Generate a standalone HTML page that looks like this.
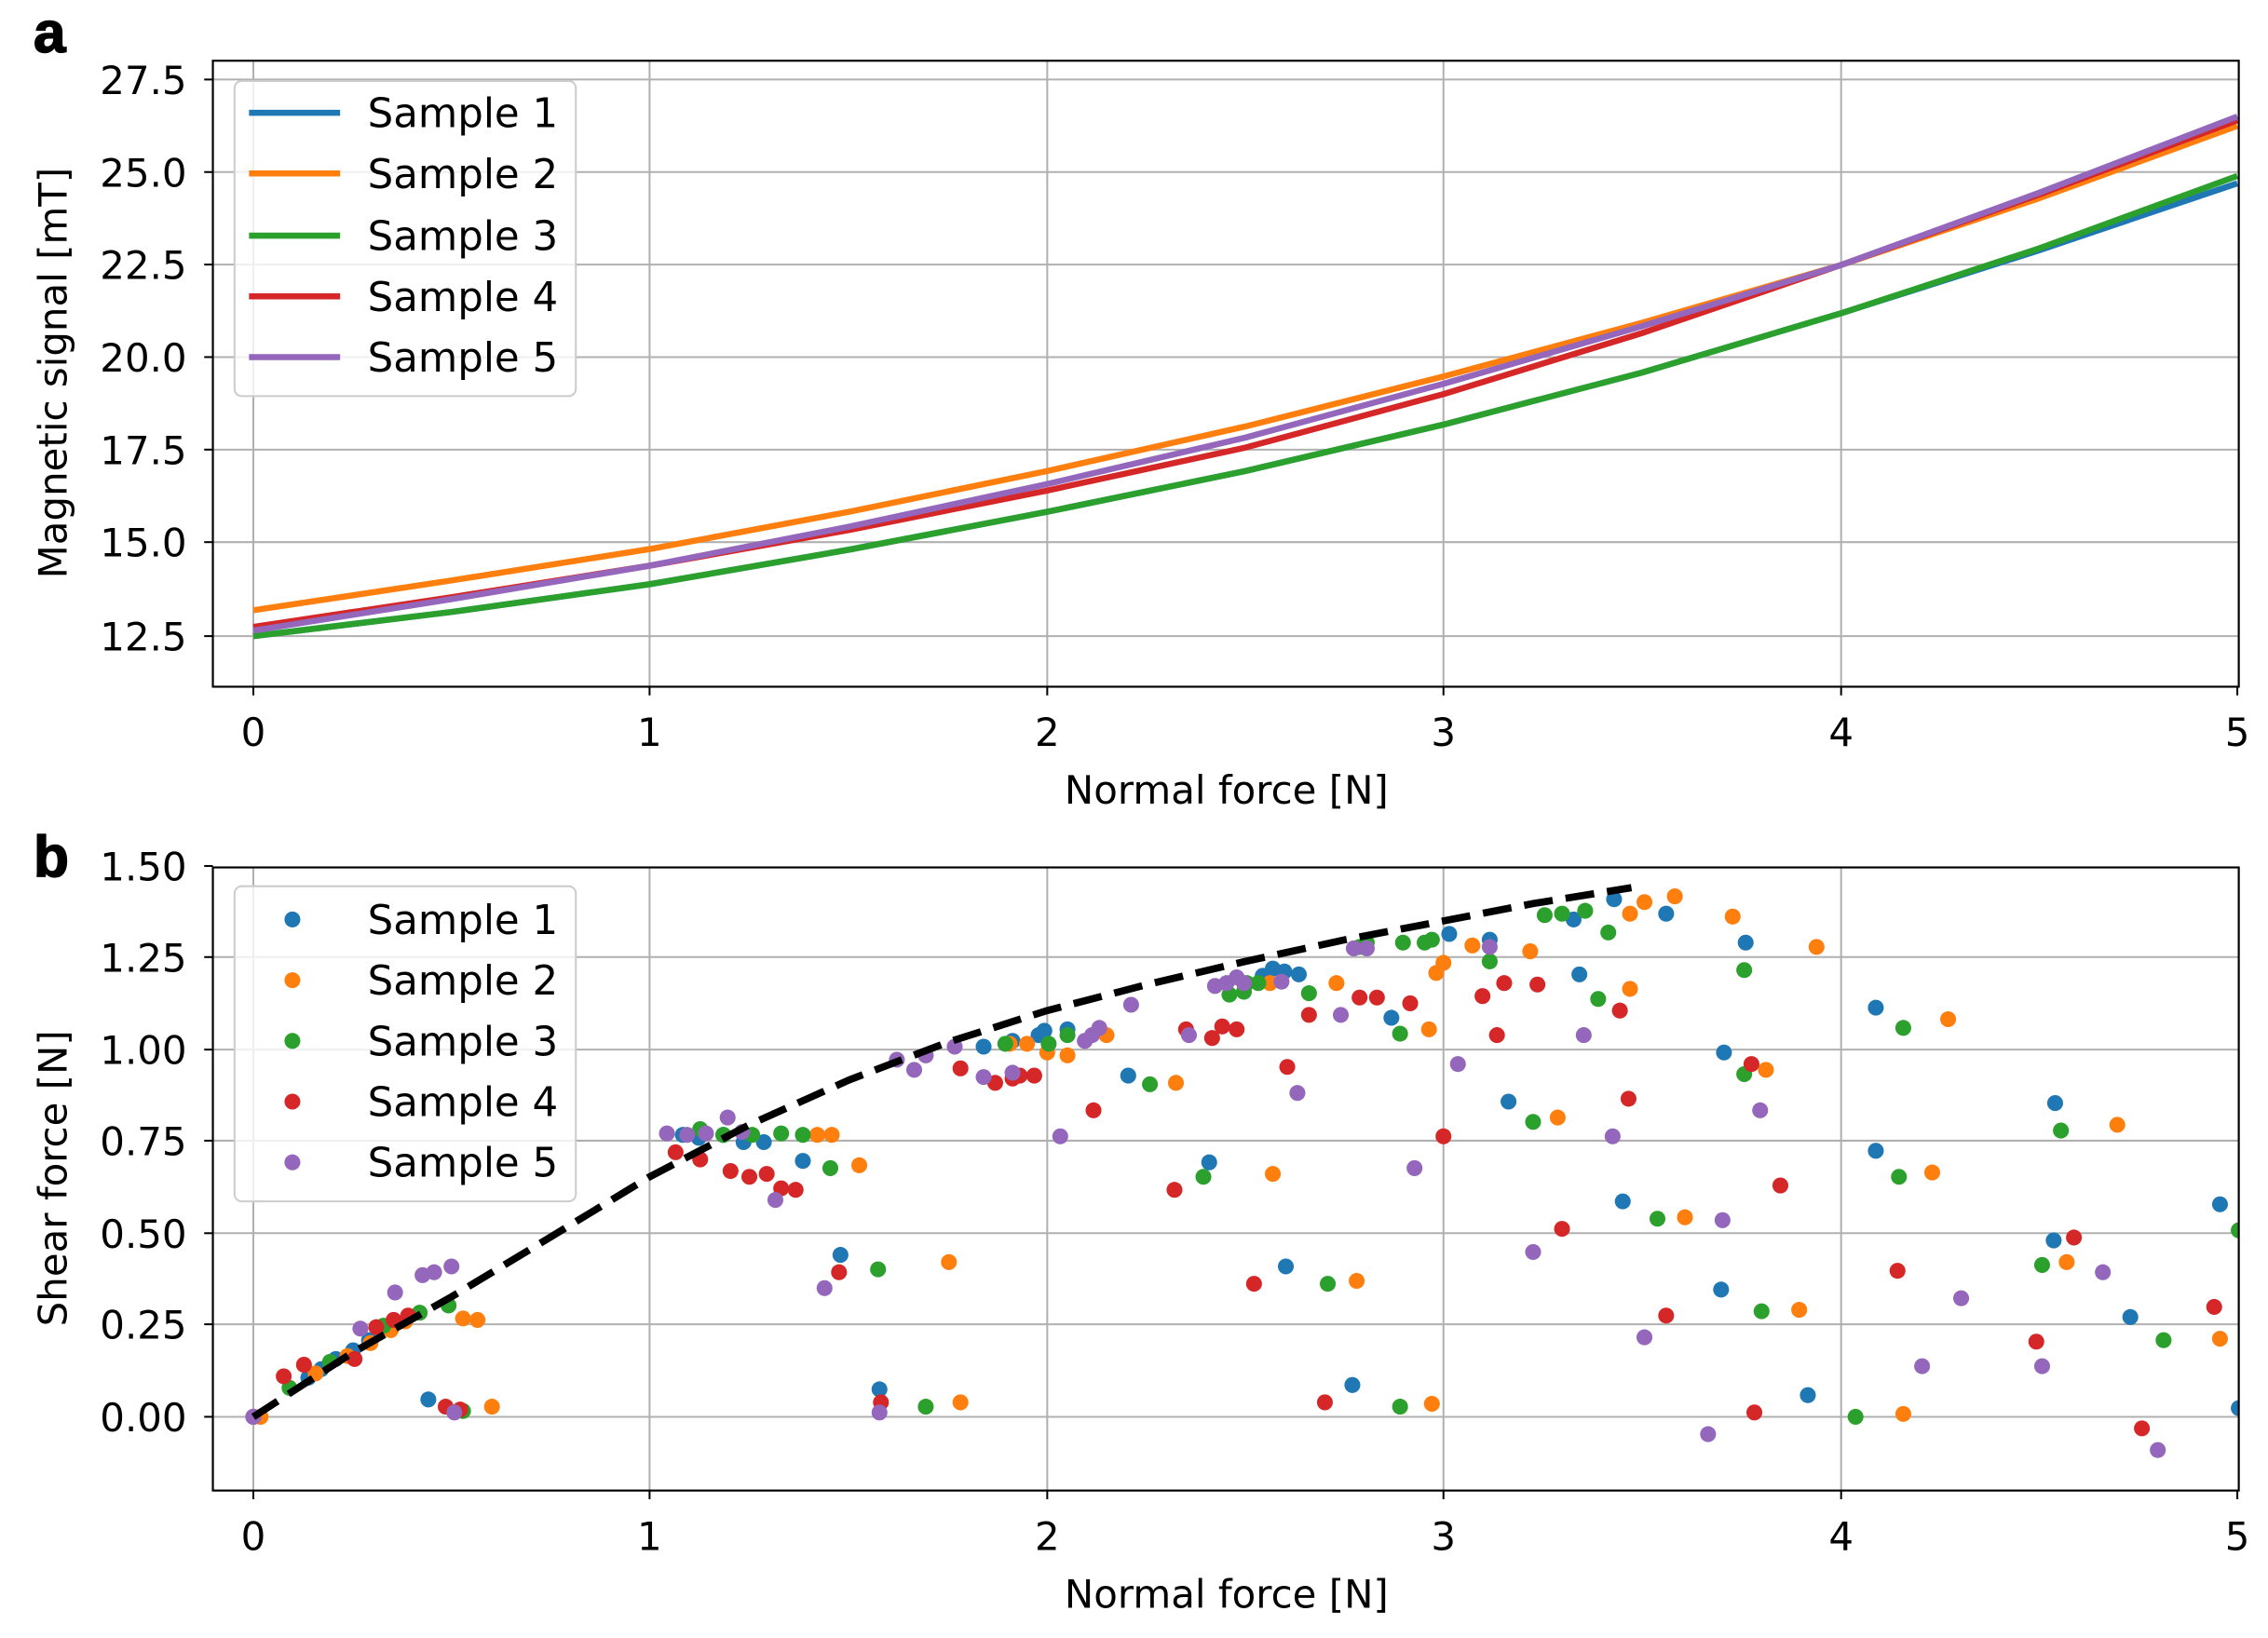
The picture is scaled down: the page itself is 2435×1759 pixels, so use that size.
<!DOCTYPE html>
<html><head><meta charset="utf-8"><style>
html,body{margin:0;padding:0;background:#fff;}
svg{display:block;}
text{font-family:"DejaVu Sans","Liberation Sans",sans-serif;fill:#000;}
</style></head><body>
<svg width="2435" height="1759" viewBox="0 0 1568 1133" xmlns="http://www.w3.org/2000/svg">
<defs>
<clipPath id="ca"><rect x="147" y="42" width="1401" height="433"/></clipPath>
<clipPath id="cb"><rect x="147" y="600" width="1401" height="431"/></clipPath>
</defs>
<rect width="1568" height="1133" fill="#fff"/>
<!-- Panel a -->
<text x="23" y="36" font-weight="900" font-size="40" style="font-family:'Liberation Sans',sans-serif" stroke="#000" stroke-width="1">a</text>
<g stroke="#b0b0b0" stroke-width="1.3">
<line x1="175" y1="42" x2="175" y2="475"/><line x1="449" y1="42" x2="449" y2="475"/><line x1="724" y1="42" x2="724" y2="475"/><line x1="998" y1="42" x2="998" y2="475"/><line x1="1273" y1="42" x2="1273" y2="475"/>
<line x1="147" y1="55" x2="1548" y2="55"/><line x1="147" y1="119" x2="1548" y2="119"/><line x1="147" y1="183" x2="1548" y2="183"/><line x1="147" y1="247" x2="1548" y2="247"/><line x1="147" y1="311" x2="1548" y2="311"/><line x1="147" y1="375" x2="1548" y2="375"/><line x1="147" y1="440" x2="1548" y2="440"/>
</g>
<g clip-path="url(#ca)" fill="none" stroke-width="4.2" stroke-linejoin="round">
<polyline stroke="#1f77b4" points="175,440 312,423.3 449,404.1 587,380.2 724,354 861,325.8 998,293.7 1135,257.8 1273,216.7 1410,173.1 1547,126.8"/>
<polyline stroke="#ff7f0e" points="175,422.1 312,401.5 449,379.8 587,354 724,325.8 861,295 998,260.4 1135,223.4 1273,183.3 1410,137.1 1547,87.1"/>
<polyline stroke="#2ca02c" points="175,440 312,423.3 449,404.1 587,380.2 724,354 861,325.8 998,293.7 1135,257.8 1273,216.7 1410,171.8 1547,121.7"/>
<polyline stroke="#d62728" points="175,433.6 312,413.1 449,391.3 587,366.6 724,339.3 861,309.6 998,272.6 1135,230.5 1273,183.3 1410,134.6 1547,83.2"/>
<polyline stroke="#9467bd" points="175,436.2 312,414.4 449,391.3 587,364.3 724,334.8 861,302.7 998,265.5 1135,225.7 1273,183.3 1410,133.3 1547,80.6"/>
</g>
<rect x="147" y="42" width="1401" height="433" fill="none" stroke="#000" stroke-width="1.4"/>
<g stroke="#000" stroke-width="1.3">
<line x1="175" y1="475" x2="175" y2="481"/><line x1="449" y1="475" x2="449" y2="481"/><line x1="724" y1="475" x2="724" y2="481"/><line x1="998" y1="475" x2="998" y2="481"/><line x1="1273" y1="475" x2="1273" y2="481"/><line x1="1547" y1="475" x2="1547" y2="481"/>
<line x1="141" y1="55" x2="147" y2="55"/><line x1="141" y1="119" x2="147" y2="119"/><line x1="141" y1="183" x2="147" y2="183"/><line x1="141" y1="247" x2="147" y2="247"/><line x1="141" y1="311" x2="147" y2="311"/><line x1="141" y1="375" x2="147" y2="375"/><line x1="141" y1="440" x2="147" y2="440"/>
</g>
<g font-size="27" text-anchor="middle">
<text x="175" y="516">0</text><text x="449" y="516">1</text><text x="724" y="516">2</text><text x="998" y="516">3</text><text x="1273" y="516">4</text><text x="1547" y="516">5</text>
<text x="848" y="556">Normal force [N]</text>
</g>
<g font-size="27" text-anchor="end">
<text x="129" y="65">27.5</text><text x="129" y="129">25.0</text><text x="129" y="193">22.5</text><text x="129" y="257">20.0</text><text x="129" y="321">17.5</text><text x="129" y="385">15.0</text><text x="129" y="450">12.5</text>
</g>
<text font-size="27" text-anchor="middle" transform="translate(46,258) rotate(-90)">Magnetic signal [mT]</text>
<rect x="162" y="56" width="236" height="218" rx="5" fill="#fff" fill-opacity="0.8" stroke="#cccccc" stroke-width="1.3"/>
<g stroke-width="4.2">
<line x1="172" y1="78" x2="235" y2="78" stroke="#1f77b4"/>
<line x1="172" y1="120" x2="235" y2="120" stroke="#ff7f0e"/>
<line x1="172" y1="163" x2="235" y2="163" stroke="#2ca02c"/>
<line x1="172" y1="205" x2="235" y2="205" stroke="#d62728"/>
<line x1="172" y1="247" x2="235" y2="247" stroke="#9467bd"/>
</g>
<g font-size="28">
<text x="254" y="88">Sample 1</text><text x="254" y="130">Sample 2</text><text x="254" y="173">Sample 3</text><text x="254" y="215">Sample 4</text><text x="254" y="257">Sample 5</text>
</g>

<!-- Panel b -->
<text x="23" y="606" font-weight="900" font-size="40" style="font-family:'Liberation Sans',sans-serif" stroke="#000" stroke-width="1">b</text>
<g stroke="#b0b0b0" stroke-width="1.3">
<line x1="175" y1="600" x2="175" y2="1031"/><line x1="449" y1="600" x2="449" y2="1031"/><line x1="724" y1="600" x2="724" y2="1031"/><line x1="998" y1="600" x2="998" y2="1031"/><line x1="1273" y1="600" x2="1273" y2="1031"/>
<line x1="147" y1="662" x2="1548" y2="662"/><line x1="147" y1="726" x2="1548" y2="726"/><line x1="147" y1="789" x2="1548" y2="789"/><line x1="147" y1="853" x2="1548" y2="853"/><line x1="147" y1="916" x2="1548" y2="916"/><line x1="147" y1="980" x2="1548" y2="980"/>
</g>
<g clip-path="url(#cb)">
<g fill="#1f77b4">
<circle cx="175" cy="980" r="5.5"/><circle cx="213" cy="953" r="5.5"/><circle cx="222" cy="947" r="5.5"/><circle cx="232" cy="940" r="5.5"/><circle cx="244" cy="934" r="5.5"/><circle cx="255" cy="927" r="5.5"/><circle cx="296" cy="968" r="5.5"/><circle cx="472" cy="785" r="5.5"/><circle cx="483" cy="787" r="5.5"/><circle cx="500" cy="785" r="5.5"/><circle cx="514" cy="790" r="5.5"/><circle cx="528" cy="790" r="5.5"/><circle cx="555" cy="803" r="5.5"/><circle cx="581" cy="868" r="5.5"/><circle cx="608" cy="961" r="5.5"/><circle cx="680" cy="724" r="5.5"/><circle cx="700" cy="720" r="5.5"/><circle cx="718" cy="716" r="5.5"/><circle cx="722" cy="713" r="5.5"/><circle cx="738" cy="712" r="5.5"/><circle cx="780" cy="744" r="5.5"/><circle cx="836" cy="804" r="5.5"/><circle cx="873" cy="675" r="5.5"/><circle cx="880" cy="670" r="5.5"/><circle cx="888" cy="672" r="5.5"/><circle cx="898" cy="674" r="5.5"/><circle cx="889" cy="876" r="5.5"/><circle cx="935" cy="958" r="5.5"/><circle cx="962" cy="704" r="5.5"/><circle cx="1002" cy="646" r="5.5"/><circle cx="1030" cy="650" r="5.5"/><circle cx="1043" cy="762" r="5.5"/><circle cx="1088" cy="636" r="5.5"/><circle cx="1092" cy="674" r="5.5"/><circle cx="1116" cy="622" r="5.5"/><circle cx="1122" cy="831" r="5.5"/><circle cx="1152" cy="632" r="5.5"/><circle cx="1190" cy="892" r="5.5"/><circle cx="1192" cy="728" r="5.5"/><circle cx="1207" cy="652" r="5.5"/><circle cx="1250" cy="965" r="5.5"/><circle cx="1297" cy="697" r="5.5"/><circle cx="1297" cy="796" r="5.5"/><circle cx="1420" cy="858" r="5.5"/><circle cx="1421" cy="763" r="5.5"/><circle cx="1473" cy="911" r="5.5"/><circle cx="1535" cy="833" r="5.5"/><circle cx="1548" cy="974" r="5.5"/>
</g>
<g fill="#ff7f0e">
<circle cx="180" cy="980" r="5.5"/><circle cx="218" cy="950" r="5.5"/><circle cx="240" cy="938" r="5.5"/><circle cx="256" cy="929" r="5.5"/><circle cx="270" cy="920" r="5.5"/><circle cx="280" cy="914" r="5.5"/><circle cx="320" cy="912" r="5.5"/><circle cx="330" cy="913" r="5.5"/><circle cx="340" cy="973" r="5.5"/><circle cx="565" cy="785" r="5.5"/><circle cx="575" cy="785" r="5.5"/><circle cx="594" cy="806" r="5.5"/><circle cx="656" cy="873" r="5.5"/><circle cx="664" cy="970" r="5.5"/><circle cx="698" cy="722" r="5.5"/><circle cx="710" cy="722" r="5.5"/><circle cx="724" cy="728" r="5.5"/><circle cx="738" cy="730" r="5.5"/><circle cx="765" cy="716" r="5.5"/><circle cx="813" cy="749" r="5.5"/><circle cx="878" cy="680" r="5.5"/><circle cx="880" cy="812" r="5.5"/><circle cx="924" cy="680" r="5.5"/><circle cx="938" cy="886" r="5.5"/><circle cx="988" cy="712" r="5.5"/><circle cx="993" cy="673" r="5.5"/><circle cx="998" cy="666" r="5.5"/><circle cx="990" cy="971" r="5.5"/><circle cx="1018" cy="654" r="5.5"/><circle cx="1058" cy="658" r="5.5"/><circle cx="1077" cy="773" r="5.5"/><circle cx="1127" cy="632" r="5.5"/><circle cx="1127" cy="684" r="5.5"/><circle cx="1137" cy="624" r="5.5"/><circle cx="1158" cy="620" r="5.5"/><circle cx="1165" cy="842" r="5.5"/><circle cx="1198" cy="634" r="5.5"/><circle cx="1221" cy="740" r="5.5"/><circle cx="1244" cy="906" r="5.5"/><circle cx="1256" cy="655" r="5.5"/><circle cx="1316" cy="978" r="5.5"/><circle cx="1336" cy="811" r="5.5"/><circle cx="1347" cy="705" r="5.5"/><circle cx="1429" cy="873" r="5.5"/><circle cx="1464" cy="778" r="5.5"/><circle cx="1535" cy="926" r="5.5"/>
</g>
<g fill="#2ca02c">
<circle cx="175" cy="980" r="5.5"/><circle cx="200" cy="960" r="5.5"/><circle cx="228" cy="942" r="5.5"/><circle cx="265" cy="917" r="5.5"/><circle cx="290" cy="908" r="5.5"/><circle cx="310" cy="903" r="5.5"/><circle cx="320" cy="976" r="5.5"/><circle cx="484" cy="781" r="5.5"/><circle cx="500" cy="785" r="5.5"/><circle cx="520" cy="785" r="5.5"/><circle cx="540" cy="784" r="5.5"/><circle cx="555" cy="785" r="5.5"/><circle cx="574" cy="808" r="5.5"/><circle cx="607" cy="878" r="5.5"/><circle cx="640" cy="973" r="5.5"/><circle cx="695" cy="722" r="5.5"/><circle cx="725" cy="722" r="5.5"/><circle cx="738" cy="716" r="5.5"/><circle cx="795" cy="750" r="5.5"/><circle cx="832" cy="814" r="5.5"/><circle cx="850" cy="688" r="5.5"/><circle cx="860" cy="686" r="5.5"/><circle cx="862" cy="680" r="5.5"/><circle cx="870" cy="680" r="5.5"/><circle cx="905" cy="687" r="5.5"/><circle cx="918" cy="888" r="5.5"/><circle cx="940" cy="655" r="5.5"/><circle cx="945" cy="652" r="5.5"/><circle cx="968" cy="715" r="5.5"/><circle cx="970" cy="652" r="5.5"/><circle cx="985" cy="652" r="5.5"/><circle cx="990" cy="650" r="5.5"/><circle cx="968" cy="973" r="5.5"/><circle cx="1030" cy="665" r="5.5"/><circle cx="1060" cy="776" r="5.5"/><circle cx="1068" cy="633" r="5.5"/><circle cx="1080" cy="632" r="5.5"/><circle cx="1096" cy="630" r="5.5"/><circle cx="1105" cy="691" r="5.5"/><circle cx="1112" cy="645" r="5.5"/><circle cx="1146" cy="843" r="5.5"/><circle cx="1206" cy="671" r="5.5"/><circle cx="1206" cy="743" r="5.5"/><circle cx="1218" cy="907" r="5.5"/><circle cx="1283" cy="980" r="5.5"/><circle cx="1313" cy="814" r="5.5"/><circle cx="1316" cy="711" r="5.5"/><circle cx="1412" cy="875" r="5.5"/><circle cx="1425" cy="782" r="5.5"/><circle cx="1496" cy="927" r="5.5"/><circle cx="1548" cy="851" r="5.5"/>
</g>
<g fill="#d62728">
<circle cx="175" cy="980" r="5.5"/><circle cx="196" cy="952" r="5.5"/><circle cx="210" cy="944" r="5.5"/><circle cx="245" cy="940" r="5.5"/><circle cx="260" cy="918" r="5.5"/><circle cx="272" cy="913" r="5.5"/><circle cx="282" cy="910" r="5.5"/><circle cx="308" cy="973" r="5.5"/><circle cx="318" cy="975" r="5.5"/><circle cx="467" cy="797" r="5.5"/><circle cx="484" cy="802" r="5.5"/><circle cx="505" cy="810" r="5.5"/><circle cx="518" cy="814" r="5.5"/><circle cx="530" cy="812" r="5.5"/><circle cx="540" cy="822" r="5.5"/><circle cx="550" cy="823" r="5.5"/><circle cx="580" cy="880" r="5.5"/><circle cx="609" cy="970" r="5.5"/><circle cx="664" cy="739" r="5.5"/><circle cx="688" cy="749" r="5.5"/><circle cx="700" cy="746" r="5.5"/><circle cx="705" cy="744" r="5.5"/><circle cx="715" cy="744" r="5.5"/><circle cx="756" cy="768" r="5.5"/><circle cx="812" cy="823" r="5.5"/><circle cx="820" cy="712" r="5.5"/><circle cx="838" cy="718" r="5.5"/><circle cx="845" cy="710" r="5.5"/><circle cx="855" cy="712" r="5.5"/><circle cx="867" cy="888" r="5.5"/><circle cx="890" cy="738" r="5.5"/><circle cx="905" cy="702" r="5.5"/><circle cx="916" cy="970" r="5.5"/><circle cx="940" cy="690" r="5.5"/><circle cx="952" cy="690" r="5.5"/><circle cx="975" cy="694" r="5.5"/><circle cx="998" cy="786" r="5.5"/><circle cx="1025" cy="689" r="5.5"/><circle cx="1035" cy="716" r="5.5"/><circle cx="1040" cy="680" r="5.5"/><circle cx="1063" cy="681" r="5.5"/><circle cx="1080" cy="850" r="5.5"/><circle cx="1120" cy="699" r="5.5"/><circle cx="1126" cy="760" r="5.5"/><circle cx="1152" cy="910" r="5.5"/><circle cx="1213" cy="977" r="5.5"/><circle cx="1211" cy="736" r="5.5"/><circle cx="1231" cy="820" r="5.5"/><circle cx="1312" cy="879" r="5.5"/><circle cx="1408" cy="928" r="5.5"/><circle cx="1434" cy="856" r="5.5"/><circle cx="1481" cy="988" r="5.5"/><circle cx="1531" cy="904" r="5.5"/>
</g>
<g fill="#9467bd">
<circle cx="175" cy="980" r="5.5"/><circle cx="249" cy="919" r="5.5"/><circle cx="273" cy="894" r="5.5"/><circle cx="292" cy="882" r="5.5"/><circle cx="300" cy="880" r="5.5"/><circle cx="312" cy="876" r="5.5"/><circle cx="314" cy="977" r="5.5"/><circle cx="461" cy="784" r="5.5"/><circle cx="475" cy="785" r="5.5"/><circle cx="488" cy="784" r="5.5"/><circle cx="503" cy="773" r="5.5"/><circle cx="513" cy="783" r="5.5"/><circle cx="536" cy="830" r="5.5"/><circle cx="570" cy="891" r="5.5"/><circle cx="608" cy="977" r="5.5"/><circle cx="620" cy="733" r="5.5"/><circle cx="632" cy="740" r="5.5"/><circle cx="640" cy="730" r="5.5"/><circle cx="660" cy="724" r="5.5"/><circle cx="680" cy="745" r="5.5"/><circle cx="700" cy="742" r="5.5"/><circle cx="733" cy="786" r="5.5"/><circle cx="750" cy="720" r="5.5"/><circle cx="755" cy="716" r="5.5"/><circle cx="760" cy="711" r="5.5"/><circle cx="782" cy="695" r="5.5"/><circle cx="822" cy="716" r="5.5"/><circle cx="840" cy="682" r="5.5"/><circle cx="848" cy="680" r="5.5"/><circle cx="855" cy="676" r="5.5"/><circle cx="860" cy="680" r="5.5"/><circle cx="886" cy="679" r="5.5"/><circle cx="897" cy="756" r="5.5"/><circle cx="927" cy="702" r="5.5"/><circle cx="936" cy="656" r="5.5"/><circle cx="945" cy="656" r="5.5"/><circle cx="978" cy="808" r="5.5"/><circle cx="1008" cy="736" r="5.5"/><circle cx="1030" cy="655" r="5.5"/><circle cx="1060" cy="866" r="5.5"/><circle cx="1095" cy="716" r="5.5"/><circle cx="1115" cy="786" r="5.5"/><circle cx="1137" cy="925" r="5.5"/><circle cx="1181" cy="992" r="5.5"/><circle cx="1191" cy="844" r="5.5"/><circle cx="1217" cy="768" r="5.5"/><circle cx="1329" cy="945" r="5.5"/><circle cx="1356" cy="898" r="5.5"/><circle cx="1412" cy="945" r="5.5"/><circle cx="1454" cy="880" r="5.5"/><circle cx="1492" cy="1003" r="5.5"/>
</g>
<polyline fill="none" stroke="#000" stroke-width="5" stroke-dasharray="20,9" points="175,980 243,936 312,897 380,856 449,814 518,778 587,747 655,721 724,699 793,681 861,665 930,650 998,637 1060,625 1128,614"/>
</g>
<rect x="147" y="600" width="1401" height="431" fill="none" stroke="#000" stroke-width="1.4"/>
<g stroke="#000" stroke-width="1.3">
<line x1="175" y1="1031" x2="175" y2="1037"/><line x1="449" y1="1031" x2="449" y2="1037"/><line x1="724" y1="1031" x2="724" y2="1037"/><line x1="998" y1="1031" x2="998" y2="1037"/><line x1="1273" y1="1031" x2="1273" y2="1037"/><line x1="1547" y1="1031" x2="1547" y2="1037"/>
<line x1="141" y1="599" x2="147" y2="599"/><line x1="141" y1="662" x2="147" y2="662"/><line x1="141" y1="726" x2="147" y2="726"/><line x1="141" y1="789" x2="147" y2="789"/><line x1="141" y1="853" x2="147" y2="853"/><line x1="141" y1="916" x2="147" y2="916"/><line x1="141" y1="980" x2="147" y2="980"/>
</g>
<g font-size="27" text-anchor="middle">
<text x="175" y="1072">0</text><text x="449" y="1072">1</text><text x="724" y="1072">2</text><text x="998" y="1072">3</text><text x="1273" y="1072">4</text><text x="1547" y="1072">5</text>
<text x="848" y="1112">Normal force [N]</text>
</g>
<g font-size="27" text-anchor="end">
<text x="129" y="609">1.50</text><text x="129" y="672">1.25</text><text x="129" y="736">1.00</text><text x="129" y="799">0.75</text><text x="129" y="863">0.50</text><text x="129" y="926">0.25</text><text x="129" y="990">0.00</text>
</g>
<text font-size="27" text-anchor="middle" transform="translate(46,815) rotate(-90)">Shear force [N]</text>
<rect x="162" y="613" width="236" height="218" rx="5" fill="#fff" fill-opacity="0.8" stroke="#cccccc" stroke-width="1.3"/>
<circle cx="202" cy="636" r="5.5" fill="#1f77b4"/>
<circle cx="202" cy="678" r="5.5" fill="#ff7f0e"/>
<circle cx="202" cy="720" r="5.5" fill="#2ca02c"/>
<circle cx="202" cy="762" r="5.5" fill="#d62728"/>
<circle cx="202" cy="804" r="5.5" fill="#9467bd"/>
<g font-size="28">
<text x="254" y="646">Sample 1</text><text x="254" y="688">Sample 2</text><text x="254" y="730">Sample 3</text><text x="254" y="772">Sample 4</text><text x="254" y="814">Sample 5</text>
</g>
</svg>
</body></html>
